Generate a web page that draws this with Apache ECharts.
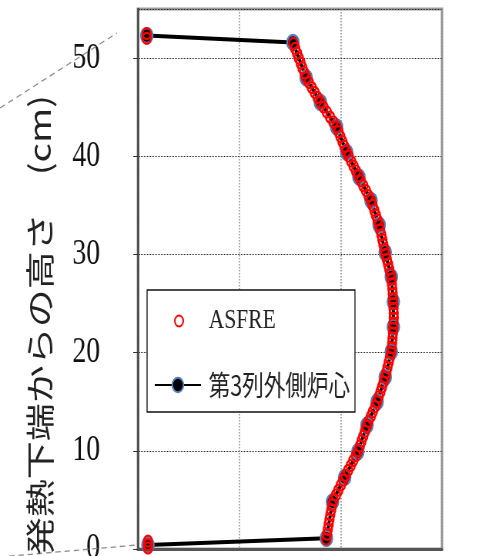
<!DOCTYPE html>
<html>
<head>
    <meta charset="utf-8"/>
    <script src="https://cdn.jsdelivr.net/npm/echarts@6/dist/echarts.min.js"></script>
    <style>
        html, body { margin: 0; padding: 0; overflow: hidden; background: #fff; }
        /* the source picture is squeezed sideways, so draw wide and squeeze it too */
        #main { width: 629px; height: 556px; transform: scaleX(0.77); transform-origin: 0 0; }
    </style>
</head>
<body>
<div id="main"></div>
<script type="text/javascript">
    // 第3列外側炉心 : 高さ (cm) と 相対値
    var coreHeight = [0.4, 1.1, 4.8, 7.3, 9.9, 12.6, 15.0, 17.5, 20.1, 22.6, 25.2,
        27.7, 30.2, 33.0, 35.5, 37.9, 40.4, 43.0, 45.5, 48.0, 51.6, 52.3];
    var coreValue = [0.05, 0.93, 0.96, 1.02, 1.085, 1.13, 1.18, 1.22, 1.25, 1.26, 1.26,
        1.25, 1.22, 1.19, 1.15, 1.09, 1.03, 0.98, 0.90, 0.83, 0.765, 0.044];

    // ASFRE
    var asfreHeight = [0.1, 0.45, 0.8,
        1.0, 1.5, 2.0, 2.5, 3.0, 3.5, 4.0, 4.5, 5.0, 5.5, 6.0, 6.5, 7.0, 7.5, 8.0, 8.5, 9.0, 9.5,
        10.0, 10.5, 11.0, 11.5, 12.0, 12.5, 13.0, 13.5, 14.0, 14.5, 15.0, 15.5, 16.0, 16.5, 17.0, 17.5,
        18.0, 18.5, 19.0, 19.5, 20.0, 20.5, 21.0, 21.5, 22.0, 22.5, 23.0, 23.5, 24.0, 24.5, 25.0, 25.5,
        26.0, 26.5, 27.0, 27.5, 28.0, 28.5, 29.0, 29.5, 30.0, 30.5, 31.0, 31.5, 32.0, 32.5, 33.0, 33.5,
        34.0, 34.5, 35.0, 35.5, 36.0, 36.5, 37.0, 37.5, 38.0, 38.5, 39.0, 39.5, 40.0, 40.5, 41.0, 41.5,
        42.0, 42.5, 43.0, 43.5, 44.0, 44.5, 45.0, 45.5, 46.0, 46.5, 47.0, 47.5, 48.0, 48.5, 49.0, 49.5,
        50.0, 50.5, 51.0, 51.5,
        52.0, 52.5];
    var asfreValue = [0.05, 0.05, 0.05,
        0.929, 0.933, 0.937, 0.941, 0.945, 0.949, 0.954, 0.958, 0.965, 0.977, 0.989, 1.001, 1.013, 1.025, 1.037, 1.05, 1.062, 1.075,
        1.087, 1.095, 1.103, 1.112, 1.12, 1.128, 1.138, 1.149, 1.159, 1.17, 1.18, 1.188, 1.196, 1.204, 1.212, 1.22,
        1.226, 1.231, 1.237, 1.243, 1.249, 1.252, 1.254, 1.256, 1.258, 1.26, 1.261, 1.262, 1.262, 1.261, 1.26, 1.259,
        1.257, 1.255, 1.253, 1.251, 1.246, 1.24, 1.234, 1.228, 1.222, 1.217, 1.211, 1.206, 1.201, 1.195, 1.19, 1.182,
        1.174, 1.166, 1.158, 1.15, 1.137, 1.125, 1.112, 1.1, 1.088, 1.076, 1.064, 1.052, 1.04, 1.028, 1.018, 1.009,
        0.999, 0.99, 0.98, 0.964, 0.948, 0.932, 0.916, 0.90, 0.886, 0.872, 0.858, 0.844, 0.83, 0.821, 0.812, 0.803,
        0.794, 0.785, 0.776, 0.767,
        0.044, 0.044];

    var yTicks = [0, 10, 20, 30, 40, 50];

    function pairs(xs, ys) {
        var out = [];
        for (var i = 0; i < xs.length; i++) out.push([xs[i], ys[i]]);
        return out;
    }

    var myChart = echarts.init(document.getElementById('main'));

    var serif = 'Liberation Serif';
    var jp = 'Noto Sans CJK JP';

    option = {
        animation: false,
        backgroundColor: '#fff',
        grid: {
            left: 179,
            right: 55,
            top: 9,
            bottom: 7,
            outerBoundsMode: 'none',
            show: true,
            borderColor: '#9a9a9a',
            borderWidth: 3,
            backgroundColor: 'transparent'
        },
        xAxis: {
            type: 'value',
            min: 0,
            max: 1.5,
            interval: 0.5,
            axisLine: {show: true, lineStyle: {color: '#555', width: 3}},
            axisTick: {show: false},
            axisLabel: {show: false},
            splitLine: {show: true, lineStyle: {color: '#888', type: 'dotted', width: 1.5}}
        },
        yAxis: {
            type: 'value',
            min: yTicks[0],
            max: 55,
            interval: 10,
            axisLine: {show: true, lineStyle: {color: '#444', width: 2.5}},
            axisTick: {show: true, length: 6, lineStyle: {color: '#333'}},
            axisLabel: {
                showMaxLabel: false,
                margin: 49,
                color: '#111',
                fontSize: 36,
                fontFamily: serif
            },
            splitLine: {show: true, lineStyle: {color: '#222', type: 'dotted', width: 1}}
        },
        legend: [{
            data: ['ASFRE'],
            left: 226,
            top: 306,
            z: 20,
            padding: 0,
            itemWidth: 11,
            itemHeight: 11,
            textStyle: {fontSize: 28, fontFamily: serif, color: '#222', lineHeight: 30, padding: [0, 0, 0, 28]}
        }, {
            data: ['第3列外側炉心'],
            left: 200,
            top: 370,
            z: 20,
            padding: 0,
            itemWidth: 60,
            itemHeight: 18,
            textStyle: {fontSize: 28, fontFamily: jp, color: '#222', lineHeight: 30, padding: [0, 0, 0, 5]}
        }],
        graphic: [
            {
                type: 'rect', z: 10,
                shape: {x: 191, y: 290, width: 270, height: 122},
                style: {fill: '#fff', stroke: '#111', lineWidth: 1.3}
            },
            {
                type: 'line', z: 1,
                shape: {x1: 0, y1: 108, x2: 152, y2: 33},
                style: {stroke: '#8c8c8c', lineWidth: 1.3, lineDash: [7, 5]}
            },
            {
                type: 'line', z: 1,
                shape: {x1: 0, y1: 557, x2: 178, y2: 545},
                style: {stroke: '#8c8c8c', lineWidth: 1.3, lineDash: [7, 5]}
            },
            {
                type: 'text', z: 5,
                x: 52, y: 95, rotation: Math.PI / 2,
                style: {
                    text: '発熱下端からの高さ　(cm)',
                    font: '38px "Noto Sans CJK JP"',
                    fill: '#222',
                    align: 'right',
                    verticalAlign: 'middle'
                }
            }
        ],
        series: [
            {
                name: '第3列外側炉心',
                type: 'line',
                data: pairs(coreValue, coreHeight),
                symbol: 'circle',
                symbolSize: 15,
                showAllSymbol: true,
                lineStyle: {color: '#000', width: 4},
                itemStyle: {color: '#000', borderColor: '#4f81bd', borderWidth: 2.5},
                z: 3
            },
            {
                name: 'ASFRE',
                type: 'scatter',
                data: pairs(asfreValue, asfreHeight),
                symbol: 'circle',
                symbolSize: 11,
                itemStyle: {color: 'rgba(255,255,255,0)', borderColor: '#ff0000', borderWidth: 2.2, opacity: 1},
                z: 4
            }
        ]
    };

    myChart.setOption(option);
</script>
</body>
</html>
